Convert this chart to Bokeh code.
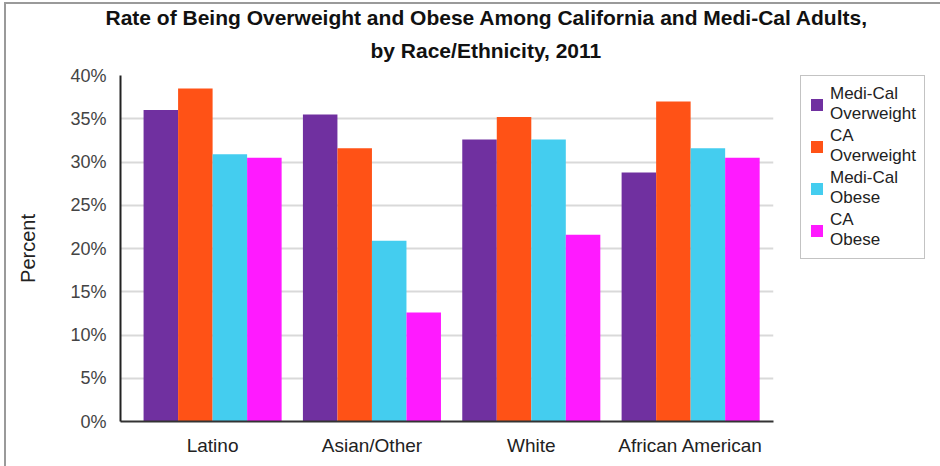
from bokeh.plotting import figure
from bokeh.models import (ColumnDataSource, Range1d, FixedTicker, PrintfTickFormatter,
                          Legend, LegendItem, Title)
from bokeh.embed import file_html
from bokeh.resources import INLINE

categories = ["Latino", "Asian/Other", "White", "African American"]
series_names = ["Medi-Cal\nOverweight", "CA\nOverweight", "Medi-Cal\nObese", "CA\nObese"]
medical_overweight = [36.0, 35.5, 32.6, 28.8]
ca_overweight = [38.5, 31.6, 35.2, 37.0]
medical_obese = [30.9, 20.9, 32.6, 31.6]
ca_obese = [30.5, 12.6, 21.6, 30.5]
y_ticks = [0, 5, 10, 15, 20, 25, 30, 35, 40]
title_lines = ["Rate of Being Overweight and Obese Among California and Medi-Cal Adults,",
               "by Race/Ethnicity, 2011"]

colors = ["#7030a0", "#ff5216", "#44cdef", "#ff1aff"]
series = [medical_overweight, ca_overweight, medical_obese, ca_obese]

FONT = "Liberation Sans"

p = figure(frame_width=653, frame_height=346, output_backend="svg", toolbar_location=None,
           x_range=Range1d(-0.578, 3.52), y_range=Range1d(0, 40),
           min_border_left=114, min_border_right=167, min_border_top=71, min_border_bottom=45)
p.styles = {"margin-left": "4px", "margin-top": "2px",
            "border-left": "2px solid #9a9a9a", "border-top": "2px solid #9a9a9a"}

bw = 0.2166
xs = list(range(len(categories)))
renderers = []
for i, (vals, col) in enumerate(zip(series, colors)):
    off = (i - 1.5) * bw
    src = ColumnDataSource(dict(x=[x + off for x in xs], top=vals))
    r = p.vbar(x="x", top="top", width=bw, bottom=0, source=src,
               fill_color=col, line_color=None)
    renderers.append(r)

# axes
p.xaxis.ticker = FixedTicker(ticks=xs)
p.xaxis.major_label_overrides = {i: c for i, c in enumerate(categories)}
p.xaxis.major_tick_line_color = None
p.xaxis.minor_tick_line_color = None
p.xaxis.axis_line_color = "#333333"
p.xaxis.axis_line_width = 2
p.xaxis.major_label_text_font = FONT
p.xaxis.major_label_text_font_size = "19px"
p.xaxis.major_label_text_color = "#222222"
p.xaxis.major_label_standoff = 7

p.yaxis.ticker = FixedTicker(ticks=y_ticks)
p.yaxis.formatter = PrintfTickFormatter(format="%d%%")
p.yaxis.major_tick_line_color = None
p.yaxis.minor_tick_line_color = None
p.yaxis.axis_line_color = "#222222"
p.yaxis.axis_line_width = 2
p.yaxis.major_label_text_font = FONT
p.yaxis.major_label_text_font_size = "18px"
p.yaxis.major_label_text_color = "#444444"
p.yaxis.major_label_standoff = 8
p.yaxis.axis_label = "Percent"
p.yaxis.axis_label_text_font = FONT
p.yaxis.axis_label_text_font_size = "20px"
p.yaxis.axis_label_text_font_style = "normal"
p.yaxis.axis_label_text_color = "#222222"
p.yaxis.axis_label_standoff = 28

p.xgrid.grid_line_color = None
p.ygrid.ticker = FixedTicker(ticks=y_ticks)
p.ygrid.grid_line_color = "#d9d9d9"
p.ygrid.grid_line_width = 2
p.outline_line_color = None

# legend in the right panel
items = [LegendItem(label=n, renderers=[r]) for n, r in zip(series_names, renderers)]
legend = Legend(items=items, location=(27, 162))
legend.label_text_font = FONT
legend.label_text_font_size = "17px"
legend.label_text_color = "#222222"
legend.glyph_width = 15
legend.glyph_height = 15
legend.label_standoff = 6
legend.spacing = 2
legend.padding = 8
legend.margin = 0
legend.border_line_color = "#888888"
legend.border_line_width = 1.5
legend.background_fill_alpha = 1
p.add_layout(legend, "right")

# title: two lines, innermost first
for txt, off, so in [(title_lines[1], 250, 24), (title_lines[0], -15, -8)]:
    p.add_layout(Title(text=txt, align="left", offset=off, standoff=so,
                       vertical_align="top",
                       text_font=FONT, text_font_size="21px", text_font_style="bold",
                       text_color="#111111"), "above")

open("out.html", "w").write(file_html(p, INLINE))
